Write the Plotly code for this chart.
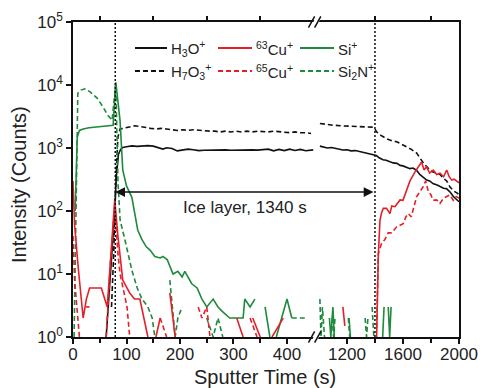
import math
import plotly.graph_objects as go

# ---------------- data (sputter time in s, intensity in counts) ----------------
# left section (0 - ~456 s)
t_h3o_L = [55, 62, 68, 74, 78, 81, 85, 89, 93, 100, 110, 120, 130, 140, 150, 160, 168, 175, 185, 195,
           205, 215, 225, 235, 245, 255, 265, 275, 285, 295, 305, 315, 325, 335, 345, 355, 365, 375,
           385, 395, 405, 415, 425, 435, 445, 449]
h3o_L = [0, 1, 5, 30, 100, 350, 800, 950, 1020, 1050, 1080, 1060, 1080, 1090, 1070, 1000, 960, 1010, 980, 900,
         930, 960, 940, 910, 920, 930, 940, 930, 935, 920, 930, 940, 930, 935, 925, 930, 960, 900,
         950, 910, 960, 915, 950, 905, 940, 935]

t_h7o3_L = [65, 72, 76, 80, 84, 88, 95, 105, 115, 125, 135, 145, 155, 165, 175, 185, 195, 205, 215, 225,
            235, 245, 255, 265, 275, 285, 295, 305, 315, 325, 335, 345, 355, 365, 375, 385, 395, 405,
            415, 425, 435, 445]
h7o3_L = [0, 3, 20, 300, 1500, 2000, 2050, 2150, 2250, 2200, 2100, 2050, 2000, 2050, 2000, 1950, 1900, 1950,
          1900, 1950, 1900, 1850, 1850, 1850, 1800, 1850, 1800, 1850, 1800, 1850, 1800, 1850, 1800, 1800,
          1850, 1800, 1800, 1750, 1800, 1750, 1750, 1700]

t_cu63_L = [0, 3, 10, 19, 25, 31, 42, 53, 64, 71, 78, 84, 93, 106, 115, 125, 140, 145, 155, 163, 172,
            181, 191, 200, 300, 306, 318, 330, 336, 350, 360, 372, 393, 405]
cu63_L = [300, 60, 12, 2, 4, 6, 6, 6, 3, 20, 150, 40, 8, 5, 4, 4, 1, 0, 1, 2, 0,
          5, 1, 0, 0, 2, 1, 0, 2, 1, 0, 1, 2, 0]

t_cu65_L = [0, 3, 12, 15, 24, 31, 38, 55, 62, 70, 78, 84, 88, 97, 101, 106, 110, 160, 163, 175, 180,
            228, 234, 241, 250, 256, 262, 325, 331, 344, 350]
cu65_L = [40, 8, 1, 0, 3, 3, 0, 0, 1, 15, 120, 21, 10, 4, 3, 1, 0, 0, 2, 1, 0,
          0, 3, 2, 3, 1, 0, 0, 2, 1, 0]

t_si_L = [0, 4, 8, 12, 19, 30, 40, 50, 60, 70, 75, 80, 84, 88, 93, 100, 110, 121, 129, 137, 144, 153,
          163, 168, 176, 187, 196, 204, 209, 222, 232, 241, 250, 262, 271, 280, 293, 305, 318, 321,
          331, 340, 350, 359, 368, 375, 380, 400, 409, 415]
si_L = [0, 100, 1500, 1900, 2000, 2100, 2150, 2200, 2200, 2250, 2300, 11000, 5000, 2700, 450, 250, 165,
        50, 35, 27, 24, 19, 18, 19, 17, 10, 11, 9, 11, 7, 6, 4, 3, 4, 3, 2.5, 2, 2, 2, 4,
        3, 4, 0, 3, 1, 0, 1, 4, 2, 0]

t_si2n_L = [0, 2, 9, 15, 22, 32, 45, 56, 65, 73, 80, 84, 88, 97, 110, 120, 129, 140, 148, 153, 163,
            181, 191, 196, 204, 213, 240, 250, 262, 271, 280, 293, 400, 409, 420, 437, 445]
si2n_L = [0, 1, 7400, 8300, 8700, 7800, 6200, 4500, 3300, 2750, 10500, 300, 72, 35, 11.5, 6, 4, 3, 2,
          1, 0, 8, 1, 2, 3, 0, 0, 2, 1, 2, 1, 0, 0, 2, 2, 2, 0]

# right section (~986 - 2000 s)
t_h3o_R = [1007, 1030, 1060, 1090, 1120, 1150, 1171, 1200, 1230, 1260, 1293, 1320, 1350, 1386, 1410,
           1430, 1457, 1480, 1507, 1530, 1557, 1580, 1600, 1626, 1650, 1672, 1698, 1720, 1745, 1769,
           1790, 1817, 1840, 1864, 1890, 1912, 1936, 1960, 1983, 2000]
h3o_R = [1070, 1050, 1000, 1020, 980, 960, 930, 940, 900, 910, 870, 850, 820, 780, 760,
         700, 650, 640, 600, 580, 570, 530, 520, 500, 470, 480, 440, 380, 340, 310,
         300, 270, 260, 245, 230, 225, 200, 170, 150, 140]

t_h7o3_R = [1007, 1050, 1100, 1171, 1250, 1320, 1386, 1400, 1412, 1440, 1483, 1520, 1555, 1590, 1626,
            1660, 1698, 1721, 1750, 1780, 1810, 1840, 1864, 1890, 1912, 1936, 1960, 1990, 2000]
h7o3_R = [2450, 2350, 2300, 2240, 2200, 2150, 2140, 2000, 1800, 1600, 1400, 1300, 1260, 1150, 1050,
          950, 830, 690, 560, 480, 420, 400, 380, 330, 300, 240, 210, 190, 180]

t_cu63_R = [1160, 1171, 1185, 1195, 1400, 1412, 1424, 1436, 1448, 1460, 1483, 1507, 1520, 1543, 1560,
            1579, 1600, 1626, 1650, 1686, 1710, 1733, 1750, 1769, 1790, 1817, 1840, 1864, 1890, 1912,
            1930, 1948, 1965, 1983, 2000]
cu63_R = [0, 3, 1.5, 0, 0, 1, 20, 72, 95, 110, 110, 91, 120, 117, 130,
          150, 148, 214, 300, 417, 500, 600, 450, 500, 400, 447, 380, 398, 350, 447,
          350, 309, 320, 295, 280]

t_cu65_R = [1400, 1412, 1418, 1424, 1448, 1470, 1495, 1520, 1555, 1580, 1602, 1620, 1638, 1659, 1680,
            1698, 1720, 1745, 1762, 1781, 1800, 1814, 1840, 1864, 1890, 1912, 1935, 1959, 1980, 2000]
cu65_R = [0, 1.4, 8, 21, 31, 35, 45, 45, 56, 60, 63, 80, 91, 81, 120,
          170, 200, 245, 300, 204, 180, 148, 150, 132, 160, 170, 180, 148, 170, 160]

t_si_R = [1060, 1075, 1085, 1100, 1110, 1200, 1215, 1225, 1330, 1345, 1355, 1440, 1455, 1465, 1480,
          1495, 1505, 1515, 1530]
si_R = [0, 2, 1, 3, 1, 0, 2, 1, 0, 2, 0, 0, 1, 3, 0, 3, 1, 3, 0]

t_si2n_R = [1000, 1007, 1015, 1025, 1040, 1060, 1095, 1105, 1115, 1140, 1200, 1210, 1220, 1240, 1320,
            1330, 1340, 1350, 1370, 1380, 1392, 1410]
si2n_R = [0, 4, 1, 3, 1, 0, 2, 1, 2, 0, 0, 2, 1, 0, 0, 2, 1, 2, 0, 3, 1, 0]

# axis layout
LEFT_RANGE = [0, 456]
RIGHT_RANGE = [986, 2000]
SPLIT = 0.632
ICE_START, ICE_END = 79, 1400
ARROW_LEVEL = 200

BLACK = "#111111"
RED = "#e3202a"
GREEN = "#1f8a3c"
FONT = "Arial, Liberation Sans, sans-serif"
DASH = "5px,3px"

W, H = 480, 388
ML, MR, MT, MB = 73, 21, 22, 51
PW = W - ML - MR
PH = H - MT - MB

fig = go.Figure()

series = [
    (t_h3o_L, h3o_L, t_h3o_R, h3o_R, BLACK, "solid"),
    (t_h7o3_L, h7o3_L, t_h7o3_R, h7o3_R, BLACK, DASH),
    (t_si_L, si_L, t_si_R, si_R, GREEN, "solid"),
    (t_si2n_L, si2n_L, t_si2n_R, si2n_R, GREEN, DASH),
    (t_cu65_L, cu65_L, t_cu65_R, cu65_R, RED, DASH),
    (t_cu63_L, cu63_L, t_cu63_R, cu63_R, RED, "solid"),
]

for tl, vl, tr, vr, col, dash in series:
    fig.add_trace(go.Scatter(x=tl, y=[v if v > 0 else None for v in vl], mode="lines",
                             line=dict(color=col, width=1.6, dash=dash),
                             xaxis="x", yaxis="y", showlegend=False, hoverinfo="skip"))
    fig.add_trace(go.Scatter(x=tr, y=[v if v > 0 else None for v in vr], mode="lines",
                             line=dict(color=col, width=1.6, dash=dash),
                             xaxis="x2", yaxis="y", showlegend=False, hoverinfo="skip"))

# helper traces so the mirror axes are drawn
for xa, ya in (("x3", "y"), ("x4", "y"), ("x2", "y2")):
    fig.add_trace(go.Scatter(x=[None], y=[None], xaxis=xa, yaxis=ya, showlegend=False,
                             hoverinfo="skip", mode="lines"))

tickfont = dict(family=FONT, size=17, color="#222222")
ax_common = dict(showline=True, linecolor=BLACK, linewidth=1.6, ticks="outside", ticklen=5,
                 tickwidth=1.5, tickcolor=BLACK, showgrid=False, zeroline=False, tickfont=tickfont)

fig.update_layout(
    width=W, height=H,
    margin=dict(l=ML, r=MR, t=MT, b=MB, autoexpand=False),
    paper_bgcolor="white", plot_bgcolor="white",
    xaxis=dict(domain=[0, SPLIT], range=LEFT_RANGE, anchor="y", mirror=True,
               tickvals=[0, 100, 200, 300, 400], ticklabelstandoff=-4,
               minor=dict(tickvals=[50, 150, 250, 350], ticks="outside", ticklen=4, tickwidth=1.5,
                          tickcolor=BLACK), **ax_common),
    xaxis2=dict(domain=[SPLIT, 1], range=RIGHT_RANGE, anchor="y", mirror=True,
                tickvals=[1200, 1600, 2000], ticklabelstandoff=-4,
                minor=dict(tickvals=[1400, 1800], ticks="outside", ticklen=4, tickwidth=1.5,
                           tickcolor=BLACK), **ax_common),
    xaxis3=dict(overlaying="x", side="top", anchor="y", range=LEFT_RANGE, showline=False,
                ticks="outside", ticklen=5, tickwidth=1.5, tickcolor=BLACK,
                tickvals=[50, 150, 250, 350], showticklabels=False, showgrid=False, zeroline=False),
    xaxis4=dict(overlaying="x2", side="top", anchor="y", range=RIGHT_RANGE, showline=False,
                ticks="outside", ticklen=5, tickwidth=1.5, tickcolor=BLACK,
                tickvals=[1400, 1800], showticklabels=False, showgrid=False, zeroline=False),
    yaxis=dict(type="log", range=[0, 5], anchor="x", side="left",
               tickvals=[1, 10, 100, 1000, 10000, 100000],
               ticktext=["10<sup>0</sup>", "10<sup>1</sup>", "10<sup>2</sup>", "10<sup>3</sup>",
                         "10<sup>4</sup>", "10<sup>5</sup>"], **ax_common),
    yaxis2=dict(type="log", range=[0, 5], overlaying="y", anchor="x2", side="right",
                showline=True, linecolor=BLACK, linewidth=1.6, ticks="", showticklabels=False,
                showgrid=False, zeroline=False),
)

# positions in pixels along the plot width
def px_left(t):
    return SPLIT * PW * (t - LEFT_RANGE[0]) / (LEFT_RANGE[1] - LEFT_RANGE[0])

def px_right(t):
    return SPLIT * PW + (1 - SPLIT) * PW * (t - RIGHT_RANGE[0]) / (RIGHT_RANGE[1] - RIGHT_RANGE[0])

shapes = []
# vertical dotted lines marking the ice layer
shapes.append(dict(type="line", xref="x", yref="paper", x0=ICE_START, x1=ICE_START, y0=0, y1=1,
                   line=dict(color=BLACK, width=1.5, dash="2px,2px")))
shapes.append(dict(type="line", xref="x2", yref="paper", x0=ICE_END, x1=ICE_END, y0=0, y1=1,
                   line=dict(color=BLACK, width=1.5, dash="2px,2px")))

# axis break marks
bx = SPLIT
for yb in (0, 1):
    shapes.append(dict(type="line", xref="paper", yref="paper",
                       x0=bx - 0.006, x1=bx + 0.002, y0=yb - 0.012, y1=yb + 0.012,
                       line=dict(color="white", width=5)))
    for dx in (-0.014, 0.002):
        shapes.append(dict(type="line", xref="paper", yref="paper",
                           x0=bx + dx - 0.008, x1=bx + dx + 0.008, y0=yb - 0.018, y1=yb + 0.018,
                           line=dict(color=BLACK, width=1.5)))

# legend
def ppx(p):
    return (p - ML) / PW

def ppy(p):
    return (MT + PH - p) / PH

legend_rows = [
    [("H<sub>3</sub>O<sup>+</sup>", BLACK, "solid"), ("<sup>63</sup>Cu<sup>+</sup>", RED, "solid"),
     ("Si<sup>+</sup>", GREEN, "solid")],
    [("H<sub>7</sub>O<sub>3</sub><sup>+</sup>", BLACK, DASH), ("<sup>65</sup>Cu<sup>+</sup>", RED, DASH),
     ("Si<sub>2</sub>N<sup>+</sup>", GREEN, DASH)],
]
col_x = [(135, 167), (218, 252), (300, 334)]
row_y = [48, 71]
annotations = []
for r, row in enumerate(legend_rows):
    for c, (name, col, dash) in enumerate(row):
        x0, x1 = col_x[c]
        shapes.append(dict(type="line", xref="paper", yref="paper", x0=ppx(x0), x1=ppx(x1),
                           y0=ppy(row_y[r]), y1=ppy(row_y[r]),
                           line=dict(color=col, width=2, dash=dash)))
        annotations.append(dict(xref="paper", yref="paper", x=ppx(x1 + 2), y=ppy(row_y[r]),
                                text=name, showarrow=False, xanchor="left", yanchor="middle",
                                font=dict(family=FONT, size=15, color="#222222")))

# double arrow for the ice layer
arrow_len = px_right(ICE_END) - px_left(ICE_START)
annotations.append(dict(xref="x", yref="y", x=ICE_START, y=math.log10(ARROW_LEVEL), text="",
                        showarrow=True, axref="pixel", ayref="pixel", ax=arrow_len, ay=0,
                        arrowhead=2, arrowside="end+start", arrowsize=1.3, arrowwidth=1.5,
                        arrowcolor=BLACK))
annotations.append(dict(xref="paper", yref="paper", x=ppx(245), y=ppy(207), text="Ice layer, 1340 s",
                        showarrow=False, xanchor="center", yanchor="middle",
                        font=dict(family=FONT, size=17, color="#222222")))
# axis titles
annotations.append(dict(xref="paper", yref="paper", x=ppx(265), y=ppy(377), text="Sputter Time (s)",
                        showarrow=False, xanchor="center", yanchor="middle",
                        font=dict(family=FONT, size=20, color="#222222")))
annotations.append(dict(xref="paper", yref="paper", x=ppx(19), y=ppy(185), text="Intensity (Counts)",
                        showarrow=False, xanchor="center", yanchor="middle", textangle=-90,
                        font=dict(family=FONT, size=20, color="#222222")))

fig.update_layout(shapes=shapes, annotations=annotations)
fig.write_html("out.html", post_script="document.body.style.margin='0px';",
               config={"displayModeBar": False})
